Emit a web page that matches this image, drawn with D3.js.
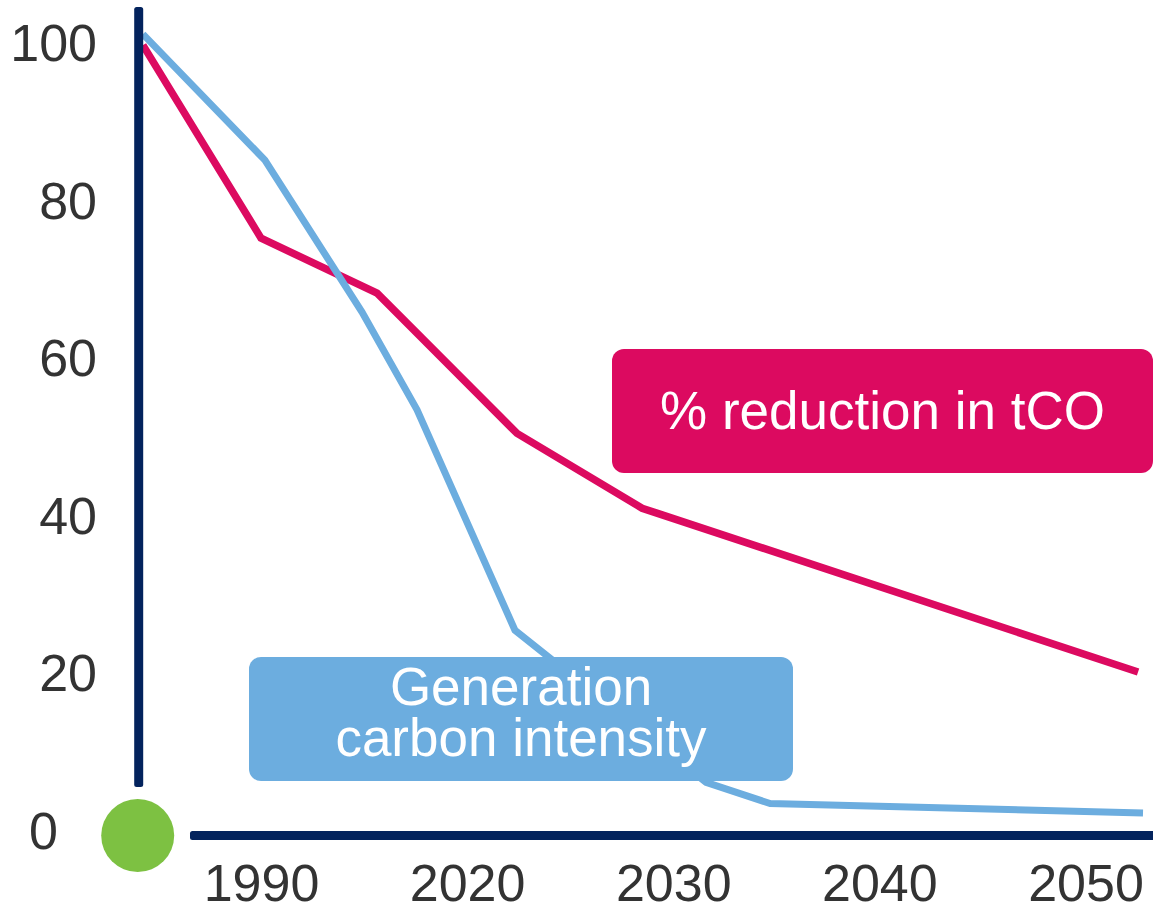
<!DOCTYPE html>
<html>
<head>
<meta charset="utf-8">
<script src="https://cdn.jsdelivr.net/npm/d3@7"></script>
<style>
  html, body { margin: 0; padding: 0; background: #ffffff; }
  svg { display: block; }
  text { font-family: "Liberation Sans", Arial, Helvetica, sans-serif; }
</style>
</head>
<body>
<svg id="chart" width="1153" height="909"></svg>
<script>
// Axis labels
const xTickLabels = ["1990", "2020", "2030", "2040", "2050"];
const yTickValues = [0, 20, 40, 60, 80, 100];

// % reduction in tCO (x in axis steps: 0 = 1990, 1 = 2020, ... 4 = 2050)
const reductionX = [-0.573, 0.0, 0.563, 1.242, 1.849, 4.255];
const reductionY = [99.6, 75.1, 68.1, 50.3, 40.8, 20.0];

// Generation carbon intensity
const intensityX = [-0.573, 0.019, 0.490, 0.757, 1.232, 2.159, 2.470, 4.279];
const intensityY = [101.0, 85.0, 65.7, 53.3, 25.3, 6.0, 3.3, 2.1];

const NAVY = "#03235d";
const PINK = "#dc0a60";
const BLUE = "#6caddf";
const GREEN = "#7dc142";
const TEXT = "#333333";

const svg = d3.select("#chart");

const x = d3.scaleLinear().domain([0, 4]).range([261, 1085.5]);
const y = d3.scaleLinear().domain([0, 100]).range([829.5, 42]);

// Series lines
const line = d3.line().x(d => x(d[0])).y(d => y(d[1]));
const reduction = d3.zip(reductionX, reductionY);
const intensity = d3.zip(intensityX, intensityY);

svg.append("path")
  .datum(reduction)
  .attr("d", line)
  .attr("fill", "none")
  .attr("stroke", PINK)
  .attr("stroke-width", 7.5);

svg.append("path")
  .datum(intensity)
  .attr("d", line)
  .attr("fill", "none")
  .attr("stroke", BLUE)
  .attr("stroke-width", 7);

// Axis bars
const axisX0 = 138.7;
svg.append("rect")
  .attr("x", axisX0 - 4.5).attr("y", 7)
  .attr("width", 9).attr("height", 780)
  .attr("rx", 2.5)
  .attr("fill", NAVY);

svg.append("rect")
  .attr("x", 190).attr("y", y(0) + 1.5)
  .attr("width", 980).attr("height", 9)
  .attr("rx", 2.5)
  .attr("fill", NAVY);

// Origin marker
svg.append("circle")
  .attr("cx", axisX0 - 1)
  .attr("cy", y(0) + 6)
  .attr("r", 36.5)
  .attr("fill", GREEN);

// Y axis labels
const yAxis = svg.append("g")
  .attr("transform", "translate(97,0)")
  .call(d3.axisLeft(y).tickValues(yTickValues).tickSize(0).tickPadding(0));
yAxis.select(".domain").remove();
yAxis.selectAll("text")
  .attr("x", d => d === 0 ? -39 : 0)
  .attr("dy", "0.36em")
  .attr("fill", TEXT)
  .style("font-size", "52px")
  .style("font-family", "'Liberation Sans', Arial, sans-serif");

// X axis labels
const xAxis = svg.append("g")
  .attr("transform", "translate(0,901)")
  .call(d3.axisBottom(x).tickValues(d3.range(xTickLabels.length))
    .tickFormat(i => xTickLabels[i]).tickSize(0).tickPadding(0));
xAxis.select(".domain").remove();
xAxis.selectAll("text")
  .attr("y", 0)
  .attr("dy", 0)
  .attr("fill", TEXT)
  .style("font-size", "52px")
  .style("font-family", "'Liberation Sans', Arial, sans-serif");

// Series labels
function labelBox(x0, y0, w, h, fill, lines, baseline0, lineGap) {
  const g = svg.append("g");
  g.append("rect")
    .attr("x", x0).attr("y", y0)
    .attr("width", w).attr("height", h)
    .attr("rx", 12)
    .attr("fill", fill);
  const t = g.append("text")
    .attr("text-anchor", "middle")
    .attr("fill", "#ffffff")
    .style("font-size", "53px");
  lines.forEach((s, i) => {
    t.append("tspan")
      .attr("x", x0 + w / 2)
      .attr("y", baseline0 + i * lineGap)
      .text(s);
  });
}

labelBox(612, 349, 541, 124, PINK, ["% reduction in tCO"], 429, 0);
labelBox(249, 657, 544, 124, BLUE, ["Generation", "carbon intensity"], 705, 51);
</script>
</body>
</html>
